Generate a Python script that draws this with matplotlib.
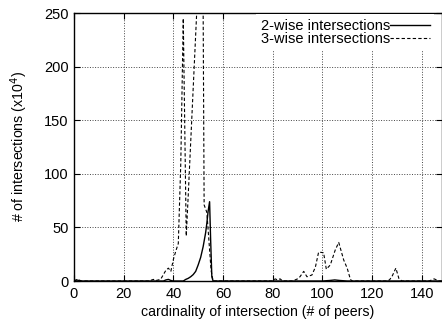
import matplotlib
matplotlib.use("Agg")
import matplotlib.pyplot as plt

plt.rcParams['font.family'] = ['Liberation Sans', 'DejaVu Sans']

# 2-wise intersections (x10^4) vs cardinality
x2 = [0, 1, 2, 3, 36, 37, 38, 39, 40, 44, 45, 46, 47, 48, 49, 50, 51, 52, 53, 53.5,
      54, 54.6, 55, 55.5, 56, 60, 100, 103, 105, 107, 110, 148]
y2 = [0, 1, 0.5, 0, 0, 1, 1.5, 0.5, 0, 0, 1.5, 2.5, 4, 6, 9, 15, 22, 32, 45, 54,
      65, 74, 40, 4, 0, 0, 0, 0.5, 1, 0.5, 0, 0]

# 3-wise intersections (x10^4)
x3 = [0, 1.5, 3, 30, 32, 33, 34, 35, 36, 37, 38, 39, 40, 41, 42, 43, 44, 45.2,
      46, 47, 48, 49, 50, 51, 51.9, 52.4, 53.5, 55.2, 56, 60, 80, 81, 82, 83, 84,
      88, 89, 90, 91, 92.5, 93.8, 95.8, 97.2, 98.5, 100.5, 101.6, 103.2, 105.2,
      106.6, 108.6, 110, 111.3, 112, 125, 126, 127, 128, 129.6, 130.8, 132,
      143, 145, 147, 148]
y3 = [0, 1.5, 0, 0, 1.5, 0.5, 1, 2, 6, 10, 12, 9, 20, 28, 35, 110, 245, 42,
      80, 130, 180, 230, 280, 300, 300, 71, 64, 10, 0, 0, 0, 2, 1, 2, 0,
      0, 1, 2, 4, 9, 4, 5.6, 13, 27, 26.4, 11, 15, 29,
      36, 19.6, 12, 1.5, 0, 0, 0, 1, 4, 12, 2.5, 0,
      0, 2, 0, 0]

fig = plt.figure(figsize=(4.42, 3.26), dpi=100)
ax = fig.add_axes([0.1674, 0.138, 0.8316, 0.822])

ax.plot(x2, y2, color='black', lw=1.0, label='2-wise intersections')
ax.plot(x3, y3, color='black', lw=0.8, linestyle=(0, (3, 2)),
        label='3-wise intersections')

ax.set_xlim(0, 148)
ax.set_ylim(0, 250)
ax.set_xticks([0, 20, 40, 60, 80, 100, 120, 140])
ax.set_yticks([0, 50, 100, 150, 200, 250])
ax.grid(True, linestyle=':', color='#444444', lw=0.7)
ax.tick_params(direction='in', top=True, right=True, labelsize=10.5, length=4, pad=4)
for sp in ax.spines.values():
    sp.set_linewidth(1.0)

ax.set_xlabel('cardinality of intersection (# of peers)', fontsize=10.2, labelpad=3)
ax.set_ylabel('# of intersections (x10$^4$)', fontsize=10.2, labelpad=10)

leg = ax.legend(loc='upper right', bbox_to_anchor=(1.0, 1.022), frameon=True,
                markerfirst=False, fontsize=10.5, handlelength=2.75,
                handletextpad=0.0, borderaxespad=0.5, borderpad=0.3,
                labelspacing=-0.05, fancybox=False)
leg.get_frame().set_edgecolor('none')
leg.get_frame().set_facecolor('white')
leg.get_frame().set_alpha(1.0)

fig.savefig('out.png', dpi=100)
